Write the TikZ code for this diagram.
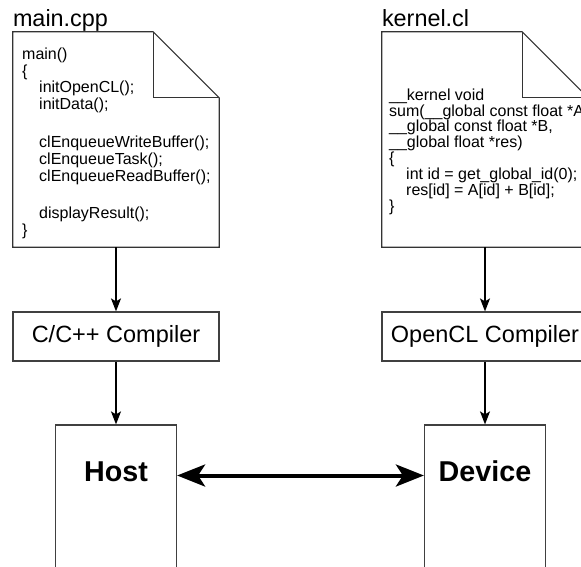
\documentclass[tikz,border=0pt]{standalone}
\usepackage{fontspec}
\setmainfont{Liberation Sans}
\usetikzlibrary{arrows.meta,positioning}

\begin{document}
\begin{tikzpicture}[
  x=1pt, y=-1pt,
  doc/.style={minimum width=206pt, minimum height=215pt, inner sep=0pt},
  fold/.style={draw=black!80, line width=1.2pt},
  title/.style={font=\fontsize{23.4}{28}\selectfont, inner sep=0pt, text depth=5pt},
  code/.style={font=\fontsize{16}{16.8}\selectfont, align=left, inner sep=0pt, anchor=north west},
  comp/.style={draw=black!75, line width=1.2pt, minimum width=206pt, minimum height=49pt, font=\fontsize{23.5}{28}\selectfont},
  unit/.style={draw=black!75, line width=1.2pt, minimum width=121pt, minimum height=200pt},
  unitlbl/.style={font=\fontsize{28.7}{34}\selectfont\bfseries, inner sep=0pt, text height=21pt, text depth=10pt},
  flow/.style={line width=1.5pt, -{Stealth[length=13pt,width=10pt,inset=3pt]}},
  bus/.style={line width=4pt, {Stealth[length=28pt,width=22pt,inset=7pt]}-{Stealth[length=28pt,width=22pt,inset=7pt]}}
]
\useasboundingbox (0,0) rectangle (581,566);

% source files with folded corner
\node[doc] (maindoc) at (116,139.5) {};
\node[doc] (kerneldoc) at (485,139.5) {};
\foreach \d in {maindoc,kerneldoc}{
  \draw[fold] (\d.south west) -- (\d.north west) -- ([xshift=-66pt]\d.north east)
    -- ([yshift=-66pt]\d.north east) -- (\d.south east) -- cycle;
  \draw[fold] ([xshift=-66pt]\d.north east) |- ([yshift=-66pt]\d.north east);
}
\node[title, above right=0pt and 0pt of maindoc.north west] (maintitle) {main.cpp};
\node[title, above right=0pt and 0pt of kerneldoc.north west] (kerneltitle) {kernel.cl};

\node[code] (maincode) at (22,47.4) {main()\\
  \{\\
  \hspace*{17pt}initOpenCL();\\
  \hspace*{17pt}initData();\\[21pt]
  \hspace*{17pt}clEnqueueWriteBuffer();\\
  \hspace*{17pt}clEnqueueTask();\\
  \hspace*{17pt}clEnqueueReadBuffer();\\[21pt]
  \hspace*{17pt}displayResult();\\
  \}};
\node[code, font=\fontsize{16}{14.6}\selectfont] (kernelcode) at (389,88.5) {\_\_kernel void\\
  sum(\_\_global const float *A,\\
  \_\_global const float *B,\\
  \_\_global float *res)\\
  \{\\
  \hspace*{17pt}int id = get\_global\_id(0);\\
  \hspace*{17pt}res[id] = A[id] + B[id];\\
  \}};

% compilers
\node[comp] (maincc) at (116,336.5) {C/C++ Compiler};
\node[comp] (kernelcc) at (485,336.5) {OpenCL Compiler};

% host and device
\node[unit] (host) at (116,525) {};
\node[unit] (device) at (485,525) {};
\node[unitlbl] (hostlbl) at (116,475.5) {Host};
\node[unitlbl] (devicelbl) at (485,475.5) {Device};

\draw[flow] (maindoc) -- (maincc);
\draw[flow] (kerneldoc) -- (kernelcc);
\draw[flow] (maincc) -- (host);
\draw[flow] (kernelcc) -- (device);
\draw[bus] (host.east |- hostlbl) -- (device.west |- devicelbl);

\end{tikzpicture}
\end{document}
